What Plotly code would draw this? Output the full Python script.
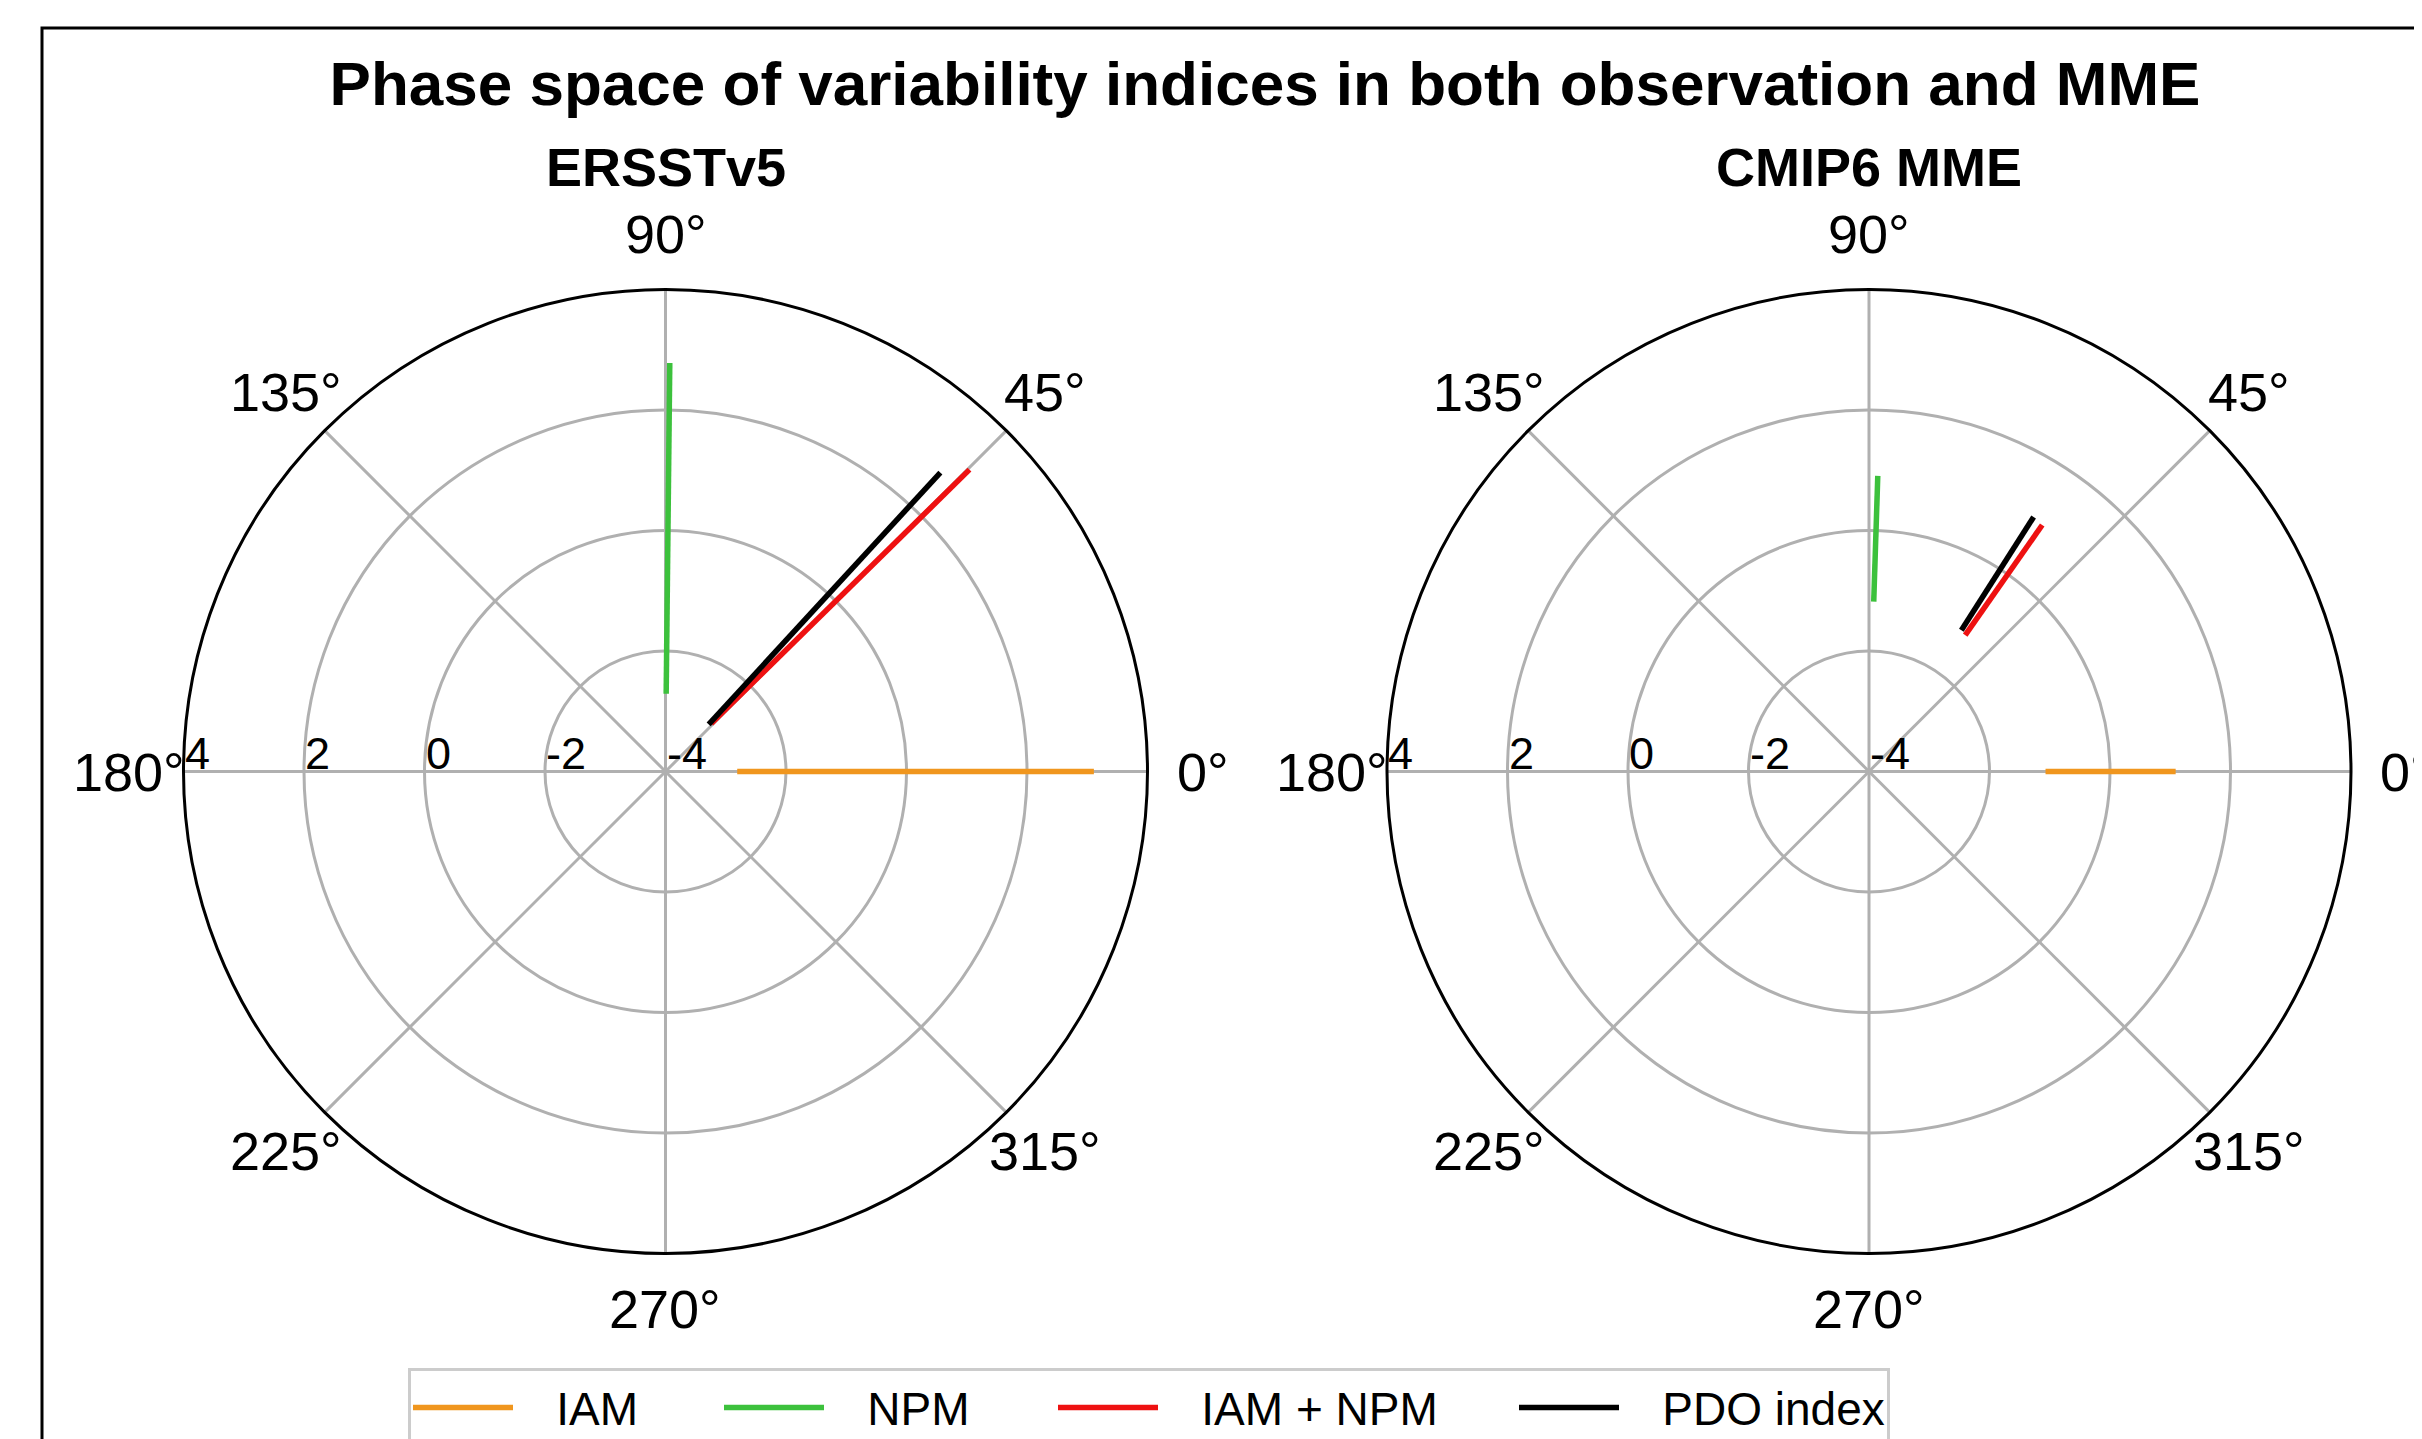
import math
import plotly.graph_objects as go

# ---------------- data ----------------
series_names = ["IAM", "NPM", "IAM + NPM", "PDO index"]
series_colors = ["#f0961e", "#3cc13c", "#ee1111", "#000000"]

# ERSSTv5 (observation): start / end points of each index in phase space
obs_theta = {
    "IAM": [0.0, 0.0],
    "NPM": [89.5, 89.4],
    "IAM + NPM": [46.3, 44.8],
    "PDO index": [47.5, 47.4],
}
obs_r = {
    "IAM": [-2.81, 3.11],
    "NPM": [-2.71, 2.78],
    "IAM + NPM": [-2.90, 3.11],
    "PDO index": [-2.94, 2.74],
}

# CMIP6 MME
mme_theta = {
    "IAM": [0.0, 0.0],
    "NPM": [88.4, 88.3],
    "IAM + NPM": [54.8, 54.9],
    "PDO index": [56.8, 57.1],
}
mme_r = {
    "IAM": [-1.07, 1.09],
    "NPM": [-1.18, 0.91],
    "IAM + NPM": [-1.23, 1.00],
    "PDO index": [-1.20, 1.03],
}

angle_ticks = [0, 45, 90, 135, 180, 225, 270, 315]
radial_ticks = [-4, -2, 0, 2, 4]
radial_range = [-4, 4]

title_text = "Phase space of variability indices in both observation and MME"
panel_titles = ["ERSSTv5", "CMIP6 MME"]

# ---------------- figure ----------------
W, H = 2422, 1439
OFF = 8  # browser body margin: page position = figure position + OFF
FONT = "Liberation Sans, Arial, Helvetica, sans-serif"
NB = "\u00a0"


def px(x):
    return (x - OFF) / W


def py(y):
    return 1 - (y - OFF) / H


legend_widths = {"IAM": 196, "NPM": 219, "IAM + NPM": 346, "PDO index": 258}
LW = 5.5

fig = go.Figure()

for name, col in zip(series_names, series_colors):
    fig.add_trace(go.Scatterpolar(
        r=obs_r[name], theta=obs_theta[name], mode="lines",
        line=dict(color=col, width=LW), name=NB * 3 + name, legendgroup=name,
        subplot="polar", showlegend=True, legendwidth=legend_widths[name],
    ))
for name, col in zip(series_names, series_colors):
    fig.add_trace(go.Scatterpolar(
        r=mme_r[name], theta=mme_theta[name], mode="lines",
        line=dict(color=col, width=LW), name=NB * 3 + name, legendgroup=name,
        subplot="polar2", showlegend=False,
    ))

R = 482          # px radius of each polar disc
R_LABEL = 537    # px radius where the angle labels are centred
centers = [(665.5, 771.5), (1869, 771.5)]


def polar_layout(cx, cy):
    return dict(
        domain=dict(x=[px(cx - R), px(cx + R)], y=[py(cy + R), py(cy - R)]),
        bgcolor="white",
        angularaxis=dict(
            rotation=0, direction="counterclockwise",
            tickmode="array", tickvals=angle_ticks,
            showticklabels=False, ticks="",
            showline=True, linecolor="black", linewidth=3,
            showgrid=True, gridcolor="#b0b0b0", gridwidth=2.5,
        ),
        radialaxis=dict(
            range=radial_range, tickmode="array", tickvals=radial_ticks,
            angle=180, showline=False, ticks="", showticklabels=False,
            showgrid=True, gridcolor="#b0b0b0", gridwidth=2.5,
        ),
    )


annotations = []
for (cx, cy), t in zip(centers, panel_titles):
    annotations.append(dict(
        x=px(cx), y=py(167), xref="paper", yref="paper",
        text=f"<b>{t}</b>", showarrow=False, xanchor="center", yanchor="middle",
        font=dict(family=FONT, size=54, color="black"),
    ))
    # angular tick labels, centred just outside the disc (matplotlib style)
    for a in angle_ticks:
        ax = cx + R_LABEL * math.cos(math.radians(a))
        ay = cy - R_LABEL * math.sin(math.radians(a))
        annotations.append(dict(
            x=px(ax), y=py(ay), xref="paper", yref="paper",
            text=f"{a}°", showarrow=False, xanchor="center", yanchor="middle",
            font=dict(family=FONT, size=54, color="black"),
        ))
    # radial tick labels along the 180° spoke, left-aligned on each ring
    for v in radial_ticks:
        frac = (v - radial_range[0]) / (radial_range[1] - radial_range[0])
        rx = cx - R * frac
        annotations.append(dict(
            x=px(rx), y=py(cy + 9), xref="paper", yref="paper",
            text=str(v), showarrow=False, xanchor="left", yanchor="bottom",
            borderpad=0,
            font=dict(family=FONT, size=45, color="black"),
        ))

shapes = [
    # figure frame (cropped)
    dict(type="rect", xref="paper", yref="paper",
         x0=px(42), y0=py(28), x1=1.05, y1=-0.05,
         line=dict(color="black", width=3), fillcolor="rgba(0,0,0,0)"),
]

fig.update_layout(
    width=W, height=H,
    margin=dict(l=0, r=0, t=0, b=0, autoexpand=False),
    paper_bgcolor="white",
    font=dict(family=FONT, color="black"),
    title=dict(text=title_text, x=px(1265), xanchor="center",
               y=py(83), yanchor="middle",
               font=dict(family=FONT, size=62, color="black", weight="bold")),
    polar=polar_layout(*centers[0]),
    polar2=polar_layout(*centers[1]),
    annotations=annotations,
    shapes=shapes,
    showlegend=True,
    legend=dict(
        orientation="h", x=px(408), y=py(1368),
        xanchor="left", yanchor="top",
        bordercolor="#cccccc", borderwidth=3, bgcolor="white",
        font=dict(family=FONT, size=46, color="black"),
        itemwidth=100,
    ),
)

fig.write_html("out.html")
